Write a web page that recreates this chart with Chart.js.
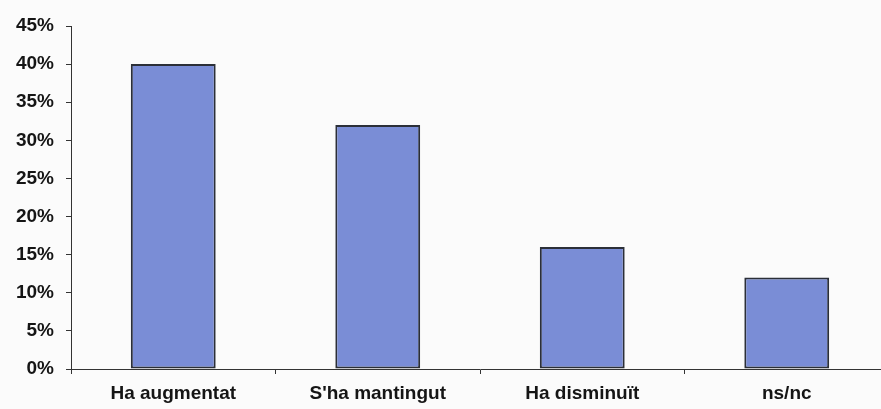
<!DOCTYPE html>
<html lang="en">
<head>
    <meta charset="UTF-8">
    <title>Evolució</title>
    <script src="https://cdn.jsdelivr.net/npm/chart.js"></script>
    <style>
        html, body { margin: 0; padding: 0; overflow: hidden; background: #fbfbfb; }
        #wrap { width: 890px; height: 409px; position: relative; }
    </style>
</head>
<body>
    <div id="wrap"><canvas id="barChart"></canvas></div>
    <script>
        const categories = ['Ha augmentat', "S'ha mantingut", 'Ha disminuït', 'ns/nc'];
        const percentages = [40, 32, 16, 12];
        const yTickStep = 5;
        const yMax = 45;

        const textColor = '#151515';
        const axisFont = { family: "'Liberation Sans', Arial, sans-serif", size: 19, weight: 'bold' };

        const ctx = document.getElementById('barChart').getContext('2d');
        new Chart(ctx, {
            type: 'bar',
            data: {
                labels: categories,
                datasets: [{
                    data: percentages,
                    backgroundColor: '#7a8dd6',
                    borderColor: '#2b2f38',
                    borderWidth: 2,
                    borderSkipped: false,
                    categoryPercentage: 1,
                    barPercentage: 0.415
                }]
            },
            options: {
                responsive: true,
                maintainAspectRatio: false,
                animation: false,
                layout: { padding: { top: 26, right: 1, left: 0, bottom: 0 } },
                plugins: {
                    legend: { display: false },
                    tooltip: { enabled: false }
                },
                scales: {
                    x: {
                        afterFit: scale => { scale.height = 40; },
                        grid: {
                            offset: true,
                            drawOnChartArea: false,
                            tickLength: 5,
                            color: '#333'
                        },
                        border: { color: '#333', width: 1 },
                        ticks: { color: textColor, font: axisFont, padding: 8, maxRotation: 0 }
                    },
                    y: {
                        min: 0,
                        max: yMax,
                        afterFit: scale => { scale.width = 71; },
                        grid: {
                            drawOnChartArea: false,
                            tickLength: 5,
                            color: '#333'
                        },
                        border: { color: '#333', width: 1 },
                        ticks: {
                            stepSize: yTickStep,
                            color: textColor,
                            font: axisFont,
                            padding: 12,
                            callback: v => v + '%'
                        }
                    }
                }
            }
        });
    </script>
</body>
</html>
